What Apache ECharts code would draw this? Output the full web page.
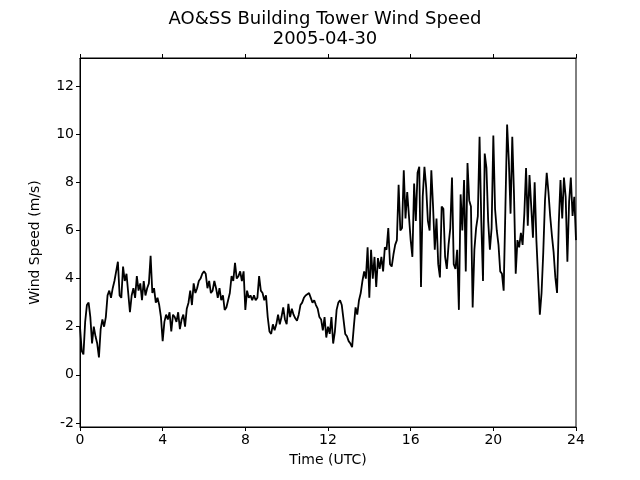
<!DOCTYPE html>
<html>
<head>
<meta charset="utf-8">
<script src="https://cdn.jsdelivr.net/npm/echarts@6/dist/echarts.min.js"></script>
<style>html,body{margin:0;padding:0;background:#fff}#chart{width:640px;height:480px}</style>
</head>
<body>
<div id="chart"></div>
<script>
// Wind speed (m/s), 5-minute samples
const stepMinutes = 5;
const speed00to06 = [
  2.0, 1.0, 0.85, 2.2, 2.9, 3.0, 2.4, 1.3, 2.0, 1.6, 1.3, 0.72,
  1.9, 2.3, 2.0, 2.4, 3.3, 3.5, 3.2, 3.6, 3.9, 4.3, 4.7, 3.3,
  3.2, 4.5, 3.9, 4.2, 3.4, 2.6, 3.3, 3.6, 3.2, 4.1, 3.5, 3.8,
  3.1, 3.9, 3.3, 3.6, 3.8, 4.95, 3.4, 3.6, 3.0, 3.2, 2.9, 2.4,
  1.4, 2.2, 2.5, 2.3, 2.6, 1.8, 2.5, 2.4, 2.2, 2.6, 1.9, 2.3,
  2.5, 2.0, 2.75, 3.0, 3.5, 2.9, 3.8, 3.4, 3.6, 3.9, 4.0, 4.2
];
const speed06to12 = [
  4.3, 4.2, 3.6, 3.9, 3.4, 3.5, 3.9, 3.6, 3.2, 3.6, 3.1, 3.3,
  2.7, 2.8, 3.1, 3.4, 4.1, 3.9, 4.65, 4.0, 4.1, 4.3, 3.9, 4.3,
  2.7, 3.5, 3.2, 3.3, 3.1, 3.3, 3.1, 3.2, 4.1, 3.5, 3.4, 3.1,
  3.3, 2.4, 1.8, 1.7, 2.1, 1.85, 2.1, 2.5, 2.1, 2.4, 2.8, 2.3,
  2.1, 2.95, 2.4, 2.75, 2.5, 2.35, 2.25, 2.5, 2.9, 3.0, 3.2, 3.3,
  3.35, 3.4, 3.2, 3.0, 3.1, 2.9, 2.75, 2.4, 2.3, 1.85, 2.4, 1.55
];
const speed12to18 = [
  2.0, 1.7, 2.4, 1.3, 1.8, 2.7, 3.0, 3.1, 2.9, 2.3, 1.7, 1.6,
  1.4, 1.3, 1.15, 2.0, 2.8, 2.5, 3.1, 3.4, 3.9, 4.3, 4.0, 5.3,
  3.2, 5.2, 4.0, 4.9, 3.65, 4.85, 4.4, 4.9, 4.3, 5.3, 5.2, 6.1,
  4.6, 4.5, 5.0, 5.4, 5.6, 7.9, 6.0, 6.1, 8.5, 6.5, 7.6, 6.6,
  5.6, 4.9, 7.95, 6.4, 8.4, 8.65, 3.65, 7.4, 8.65, 7.8, 6.4, 6.0,
  8.5, 7.0, 5.2, 6.5, 4.6, 4.05, 7.0, 6.9, 4.9, 4.4, 5.4, 6.1
];
const speed18to24 = [
  8.2, 4.6, 4.4, 5.2, 2.7, 7.5, 6.0, 8.1, 4.3, 8.8, 7.25, 7.0,
  2.8, 5.2, 6.1, 6.6, 9.9, 6.4, 3.9, 9.2, 8.6, 6.4, 5.2, 6.1,
  9.95, 6.9, 6.0, 5.4, 4.3, 4.2, 3.5, 6.9, 10.4, 8.9, 6.7, 9.9,
  7.5, 4.2, 5.6, 5.3, 5.9, 5.4, 6.7, 8.6, 6.2, 8.3, 7.0, 5.7,
  8.0, 5.6, 4.05, 2.5, 3.4, 5.1, 7.25, 8.4, 7.6, 6.6, 5.8, 5.1,
  4.05, 3.4, 6.3, 8.1, 6.5, 8.2, 7.4, 4.7, 7.2, 8.2, 6.6, 7.4, 5.6
];
const xTicks = [0, 4, 8, 12, 16, 20, 24];
const yTicks = [-2, 0, 2, 4, 6, 8, 10, 12];
const titleText = 'AO&SS Building Tower Wind Speed\n2005-04-30';
const xName = 'Time (UTC)';
const yName = 'Wind Speed (m/s)';

const windSpeed = speed00to06.concat(speed06to12, speed12to18, speed18to24);
const seriesData = windSpeed.map((v, i) => [i * stepMinutes / 60, v]);

const font = 'DejaVu Sans';
const chart = echarts.init(document.getElementById('chart'), null, {renderer: 'canvas'});
chart.setOption({
  animation: false,
  backgroundColor: '#fff',
  title: {
    text: titleText,
    left: 320, top: 4, textAlign: 'center',
    textStyle: {fontFamily: font, fontSize: 18, fontWeight: 'normal', color: '#000', lineHeight: 20}
  },
  grid: {left: 80, right: 64, top: 58, bottom: 53, show: true, borderColor: '#000', borderWidth: 1, backgroundColor: 'transparent'},
  xAxis: [{
    type: 'value', min: 0, max: 24, interval: 4, position: 'bottom',
    name: xName, nameLocation: 'middle', nameGap: 26,
    nameTextStyle: {fontFamily: font, fontSize: 14, color: '#000'},
    axisLine: {show: true, onZero: false, lineStyle: {color: '#000', width: 1}},
    axisTick: {show: true, inside: false, length: 4, lineStyle: {color: '#000'}, customValues: xTicks},
    axisLabel: {fontFamily: font, fontSize: 14, color: '#000', margin: 6, customValues: xTicks},
    splitLine: {show: false}
  }, {
    type: 'value', min: 0, max: 24, interval: 4, position: 'top',
    axisLine: {show: true, onZero: false, lineStyle: {color: '#000', width: 1}},
    axisTick: {show: true, inside: false, length: 4, lineStyle: {color: '#000'}},
    axisLabel: {show: false},
    splitLine: {show: false}
  }],
  yAxis: {
    type: 'value', min: -2.17, max: 13.17,
    name: yName, nameLocation: 'middle', nameGap: 38, nameRotate: 90,
    nameTextStyle: {fontFamily: font, fontSize: 14, color: '#000'},
    axisLine: {show: true, onZero: false, lineStyle: {color: '#000', width: 1}},
    axisTick: {show: true, inside: false, length: 4, lineStyle: {color: '#000'}, customValues: yTicks},
    axisLabel: {fontFamily: font, fontSize: 14, color: '#000', margin: 6, customValues: yTicks},
    splitLine: {show: false}
  },
  series: [{
    type: 'line',
    xAxisIndex: 0,
    data: seriesData,
    showSymbol: false,
    lineStyle: {color: '#000', width: 1.8},
    itemStyle: {color: '#000'}
  }]
});
</script>
</body>
</html>
